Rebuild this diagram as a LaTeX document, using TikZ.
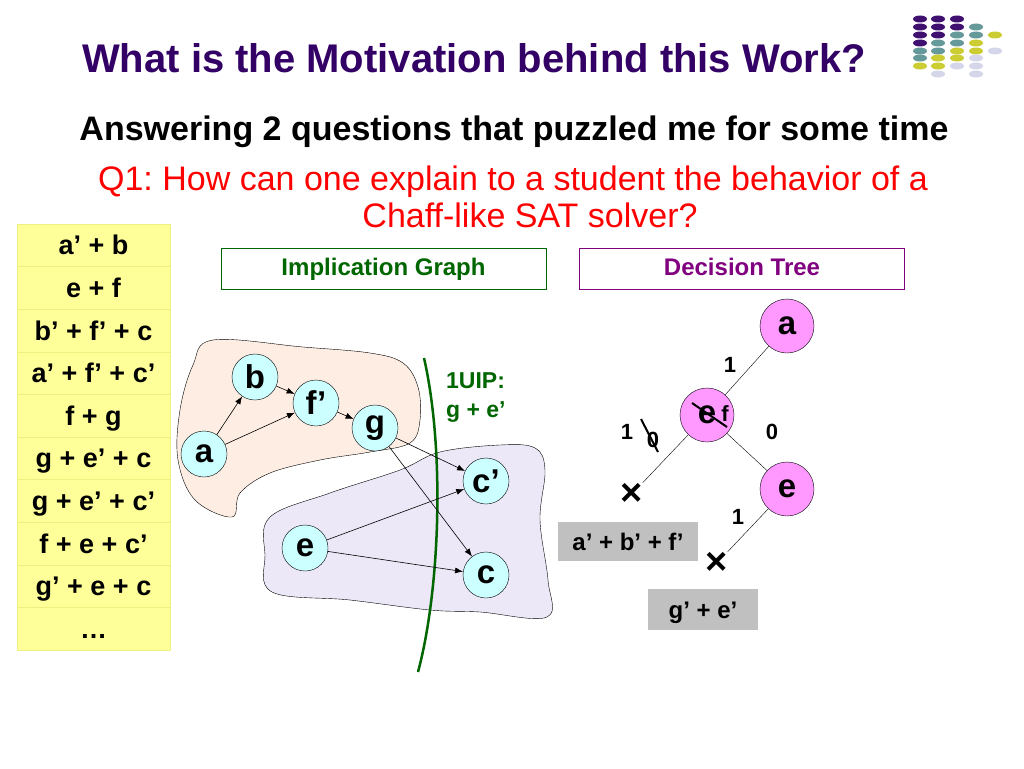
\documentclass[tikz,border=0pt]{standalone}
\usepackage{fontspec}
\setmainfont{Liberation Sans}
\frenchspacing
\usetikzlibrary{arrows.meta, positioning}
\definecolor{titlepurple}{RGB}{51,0,102}
\definecolor{clauseyellow}{RGB}{255,255,153}
\definecolor{clauseline}{RGB}{240,240,130}
\definecolor{implcyan}{RGB}{204,255,255}
\definecolor{decpink}{RGB}{255,153,255}
\definecolor{peach}{RGB}{253,237,226}
\definecolor{lilac}{RGB}{236,232,248}
\definecolor{cutgreen}{RGB}{0,102,0}
\definecolor{treepurple}{RGB}{128,0,128}
\definecolor{learntgray}{RGB}{192,192,192}
\definecolor{dotP}{RGB}{64,16,112}
\definecolor{dotT}{RGB}{102,153,153}
\definecolor{dotY}{RGB}{204,204,51}
\definecolor{dotL}{RGB}{214,214,235}
\tikzset{
  clause/.style={rectangle, fill=clauseyellow, draw=clauseline, minimum width=153pt, minimum height=42.6pt, inner sep=0, text height=19pt, text depth=0pt, font=\fontsize{27}{30}\selectfont\bfseries},
  impl/.style={circle, draw=black, fill=implcyan, minimum size=46pt, inner sep=0, font=\fontsize{33}{36}\selectfont\bfseries},
  dec/.style={circle, draw=black, fill=decpink, minimum size=54pt, inner sep=0, font=\fontsize{33}{36}\selectfont\bfseries},
  header/.style={rectangle, minimum width=325pt, minimum height=41pt, line width=0.8pt, text height=17pt, text depth=4pt, font=\fontsize{24}{28}\selectfont\bfseries},
  learnt/.style={rectangle, fill=learntgray, inner sep=0, text height=17pt, text depth=0pt, font=\fontsize{24}{26}\selectfont\bfseries},
  conflict/.style={inner sep=0pt, font=\fontsize{38}{40}\selectfont\bfseries},
  lbl/.style={inner sep=0, font=\fontsize{22}{24}\selectfont\bfseries},
  imp/.style={-{Latex[length=8pt,width=6pt]}, line width=0.6pt}
}

\begin{document}
\begin{tikzpicture}[x=1pt, y=-1pt]
  \useasboundingbox[fill=white] (0,0) rectangle (1024,768);

  % logo
  \foreach \x/\y/\c in {920/19/dotP, 938/19/dotP, 957/19/dotP,
      920/27/dotP, 938/27/dotP, 957/27/dotP, 976/27/dotT,
      920/35/dotP, 938/35/dotP, 957/35/dotT, 976/35/dotT, 995/35/dotY,
      920/43/dotP, 938/43/dotT, 957/43/dotT, 976/43/dotY,
      920/51/dotT, 938/51/dotT, 957/51/dotY, 976/51/dotY, 995/51/dotL,
      920/58/dotT, 938/58/dotY, 957/58/dotY, 976/58/dotL,
      920/66/dotY, 938/66/dotY, 957/66/dotL, 976/66/dotL,
      938/74/dotL, 976/74/dotL}
    \fill[\c] (\x,\y) ellipse[x radius=7, y radius=3.5];

  \node[anchor=base west, inner sep=0, text=titlepurple, font=\fontsize{40}{44}\selectfont\bfseries](title) at (82,72){What is the Motivation behind this Work?};
  \node[anchor=base, inner sep=0, font=\fontsize{34}{38}\selectfont\bfseries](sub) at (514,140){Answering 2 questions that puzzled me for some time};
  \node[anchor=base, inner sep=0, text=red, font=\fontsize{34}{38}\selectfont](q1a) at (513,190){Q1: How can one explain to a student the behavior of a};
  \node[anchor=base, inner sep=0, text=red, font=\fontsize{34}{38}\selectfont](q1b) at (530,227){Chaff-like SAT solver?};

  % clauses
  \node[clause](c1) at (93.5,245.3){a’ + b};
  \node[clause](c2) at (93.5,287.9){e + f};
  \node[clause](c3) at (93.5,330.5){b’ + f’ + c};
  \node[clause](c4) at (93.5,373.1){a’ + f’ + c’};
  \node[clause](c5) at (93.5,415.7){f + g};
  \node[clause](c6) at (93.5,458.3){g + e’ + c};
  \node[clause](c7) at (93.5,500.9){g + e’ + c’};
  \node[clause](c8) at (93.5,543.5){f + e + c’};
  \node[clause](c9) at (93.5,586.1){g’ + e + c};
  \node[clause](c10) at (93.5,628.7){…};

  \node[header, draw=cutgreen, text=cutgreen](hg) at (383.5,268.5){Implication Graph};
  \node[header, draw=treepurple, text=treepurple](ht) at (742,268.5){Decision Tree};

  % implication graph
  \draw[fill=peach] plot[smooth cycle, tension=0.6] coordinates {(232,517) (195,500) (178,460) (180,410) (193,365) (213,340) (303,347) (370,353) (403,363) (418,387) (420,420) (410,443) (370,452) (320,460) (270,473) (240,493)};
  \draw[fill=lilac] plot[smooth cycle, tension=0.6] coordinates {(270,517) (330,493) (400,470) (440,452) (500,445) (535,448) (545,470) (540,520) (548,580) (547,617) (480,612) (430,610) (350,600) (272,592) (265,555)};
  \draw[cutgreen, line width=2.5pt] (424,358) .. controls (445,450) and (440,590) .. (418,672);
  \node[anchor=base west, inner sep=0, text=cutgreen, font=\fontsize{23}{26}\selectfont\bfseries](uip) at (446,388){1UIP:};
  \node[anchor=base west, inner sep=0, text=cutgreen, font=\fontsize{23}{26}\selectfont\bfseries](uipc) at (446,417){g + e’};

  \node[impl](b) at (255,377){b};
  \node[impl](f) at (316,403){f’};
  \node[impl](g) at (375,428){g};
  \node[impl](a) at (204,454){a};
  \node[impl](cp) at (486,481){c’};
  \node[impl](e) at (305,548){e};
  \node[impl](c) at (486,575){c};
  \draw[imp](a)--(b);
  \draw[imp](a)--(f);
  \draw[imp](b)--(f);
  \draw[imp](f)--(g);
  \draw[imp](g)--(cp);
  \draw[imp](g)--(c);
  \draw[imp](e)--(cp);
  \draw[imp](e)--(c);

  % decision tree
  \node[dec](ta) at (787,326){a};
  \node[dec](tef) at (707,415){e};
  \node[dec](te) at (787,489){e};
  \node[conflict](xl) at (632,494){×};
  \node[conflict](xr) at (717,563){×};
  \draw(ta)--(tef);
  \draw(tef)--(te);
  \draw(tef)--(xl);
  \draw(te)--(xr);
  \draw[line width=2pt](692,403)--(727,427);
  \node[inner sep=0, font=\fontsize{22}{24}\selectfont\bfseries](tf) at (725,414){f};
  \node[lbl](l1) at (730,365){1};
  \node[lbl](l2) at (772,432){0};
  \node[lbl](l3) at (627,432){1};
  \node[lbl](l4) at (653,440){0};
  \draw[line width=2pt](641,419)--(658,452);
  \node[lbl](l5) at (738,517){1};
  \node[learnt, minimum width=140pt, minimum height=39pt](k1) at (628,541.5){a’ + b’ + f’};
  \node[learnt, minimum width=110pt, minimum height=41pt](k2) at (703,609.5){g’ + e’};
\end{tikzpicture}
\end{document}
